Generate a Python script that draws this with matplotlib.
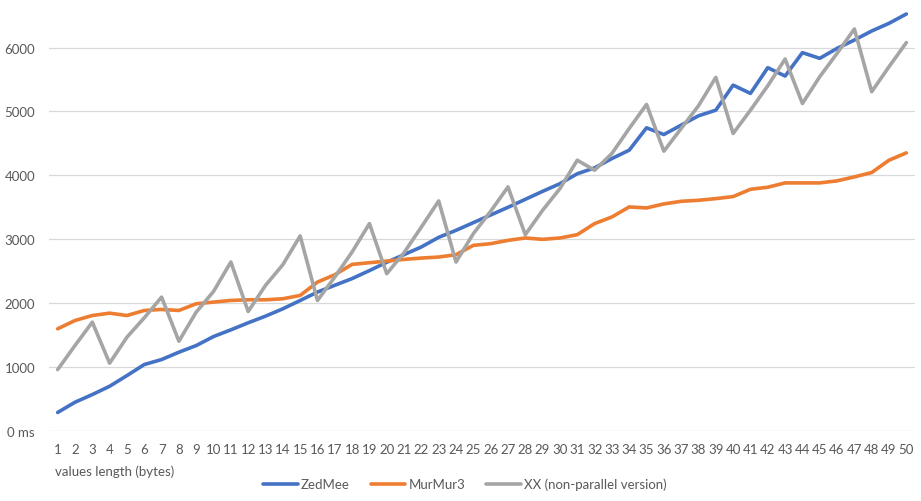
import matplotlib.pyplot as plt

# bytes of value length, 1..50
lengths = list(range(1, 51))

zedmee = [290, 450, 570, 700, 867, 1040, 1118, 1233, 1337, 1478,
          1583, 1693, 1797, 1912, 2042, 2174, 2280, 2385, 2510, 2640,
          2760, 2880, 3030, 3140, 3260, 3380, 3500, 3625, 3750, 3870,
          4025, 4117, 4263, 4394, 4744, 4639, 4786, 4932, 5020, 5412,
          5282, 5685, 5554, 5920, 5831, 5987, 6118, 6259, 6379, 6525]

murmur3 = [1599, 1729, 1807, 1844, 1807, 1886, 1902, 1886, 1991, 2017,
           2043, 2053, 2053, 2069, 2121, 2330, 2445, 2607, 2633, 2659,
           2685, 2706, 2722, 2759, 2905, 2931, 2983, 3020, 2999, 3020,
           3072, 3245, 3349, 3506, 3490, 3553, 3594, 3610, 3636, 3668,
           3782, 3814, 3882, 3882, 3882, 3914, 3976, 4044, 4237, 4352]

xx = [961, 1337, 1703, 1061, 1468, 1771, 2095, 1405, 1860, 2184,
      2644, 1870, 2278, 2602, 3052, 2043, 2409, 2801, 3245, 2461,
      2790, 3192, 3600, 2644, 3088, 3438, 3819, 3072, 3454, 3793,
      4237, 4080, 4342, 4734, 5110, 4378, 4734, 5089, 5533, 4655,
      5020, 5402, 5820, 5125, 5543, 5909, 6290, 5309, 5700, 6077]

y_ticks = [0, 1000, 2000, 3000, 4000, 5000, 6000]
y_labels = ['0 ms', '1000', '2000', '3000', '4000', '5000', '6000']

TXT = '#595959'
plt.rcParams['font.family'] = ['Lato', 'DejaVu Sans']

fig = plt.figure(figsize=(9.21, 5.02), dpi=100)
ax = fig.add_axes([49 / 921, 70 / 502, 866 / 921, 425 / 502])

ax.plot(lengths, zedmee, color='#4472C4', lw=2.6, label='ZedMee', solid_capstyle='round')
ax.plot(lengths, murmur3, color='#ED7D31', lw=2.6, label='MurMur3', solid_capstyle='round')
ax.plot(lengths, xx, color='#A5A5A5', lw=2.6, label='XX (non-parallel version)', solid_capstyle='round')

ax.set_xlim(0.5, 50.5)
ax.set_ylim(0, 6650)
ax.set_yticks(y_ticks)
ax.set_yticklabels(y_labels)
ax.set_xticks(lengths)
ax.set_xticklabels([str(v) for v in lengths])
ax.tick_params(axis='both', length=0, colors=TXT, labelsize=9.5)
ax.tick_params(axis='x', pad=9)
ax.tick_params(axis='y', pad=10)
ax.grid(axis='y', color='#D9D9D9', lw=0.9)
ax.set_axisbelow(True)
for s in ax.spines.values():
    s.set_visible(False)

fig.text(55 / 921, 1 - 472 / 502, 'values length (bytes)', color=TXT, fontsize=9.5,
         ha='left', va='center')

fig.legend(loc='center', bbox_to_anchor=(465 / 921, 1 - 485 / 502), ncol=3, frameon=False,
           fontsize=9.5, labelcolor=TXT, handlelength=2.6, handletextpad=0.25,
           columnspacing=1.6)

fig.savefig('out.png', dpi=100, facecolor='white')
